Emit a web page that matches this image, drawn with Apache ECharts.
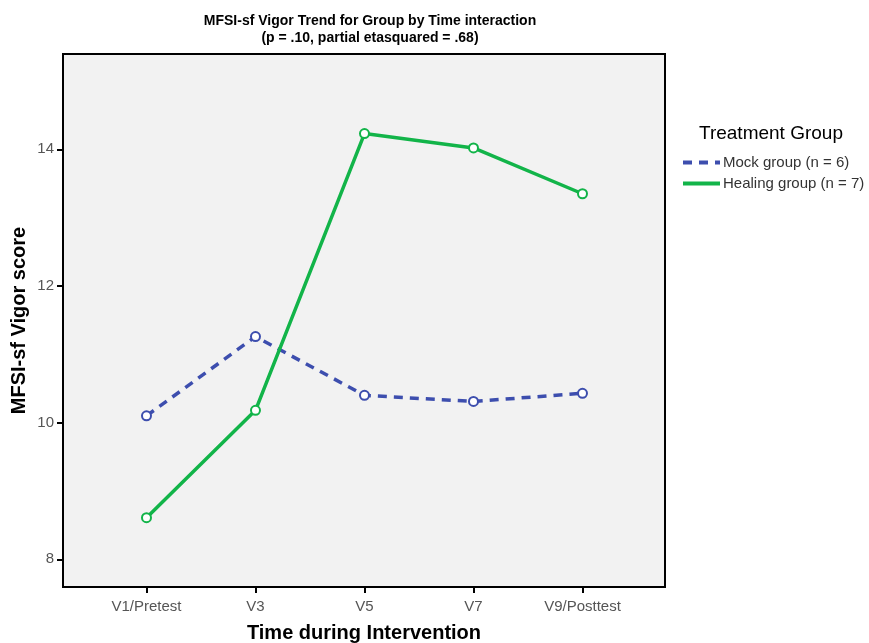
<!DOCTYPE html>
<html>
<head>
<meta charset="utf-8">
<script src="https://cdn.jsdelivr.net/npm/echarts@6/dist/echarts.min.js"></script>
<style>
html,body{margin:0;padding:0;background:#fff;}
#c{width:869px;height:643px;}
</style>
</head>
<body>
<div id="c"></div>
<script>
const categories = ['V1/Pretest', 'V3', 'V5', 'V7', 'V9/Posttest'];
const mockValues = [10.10, 11.26, 10.40, 10.31, 10.43];
const healingValues = [8.61, 10.18, 14.23, 14.02, 13.35];
const yTicks = [8, 10, 12, 14];
const seriesNames = ['Mock group (n = 6)', 'Healing group (n = 7)'];

const chart = echarts.init(document.getElementById('c'));
const font = 'Arial, "Liberation Sans", sans-serif';
const mockColor = '#3d4eae';
const healColor = '#12b449';

chart.setOption({
  backgroundColor: '#ffffff',
  animation: false,
  title: {
    text: 'MFSI-sf Vigor Trend for Group by Time interaction\n(p = .10, partial etasquared = .68)',
    left: 365, top: 8, textAlign: 'center',
    textStyle: {fontFamily: font, fontSize: 14, fontWeight: 'bold', color: '#000', lineHeight: 17}
  },
  legend: {
    left: 676, top: 150, orient: 'vertical',
    itemWidth: 37, itemHeight: 14, itemGap: 6,
    data: seriesNames,
    itemStyle: {opacity: 0},
    lineStyle: {width: 4},
    textStyle: {fontFamily: font, fontSize: 15, color: '#333', padding: [0,0,0,-2]}
  },
  graphic: [{
    type: 'text', left: 699, top: 124,
    style: {text: 'Treatment Group', fontFamily: font, fontSize: 19, fill: '#000'}
  }],
  grid: {left: 63, top: 54, width: 602, height: 533, outerBoundsMode: 'none', containLabel: false,
    show: true, backgroundColor: '#f2f2f2', borderColor: '#000', borderWidth: 2},
  xAxis: {
    type: 'value', min: -0.766, max: 4.757,
    name: 'Time during Intervention', nameLocation: 'middle', nameGap: 36,
    nameTextStyle: {fontFamily: font, fontSize: 20, fontWeight: 'bold', color: '#000'},
    axisLine: {show: false, onZero: false},
    splitLine: {show: false},
    axisTick: {show: true, length: 6, lineStyle: {color: '#000', width: 2}, customValues: [0,1,2,3,4]},
    axisLabel: {customValues: [0,1,2,3,4], formatter: v => categories[Math.round(v)], margin: 12,
      fontFamily: font, fontSize: 15, color: '#555'}
  },
  yAxis: {
    type: 'value', min: 7.595, max: 15.395,
    name: 'MFSI-sf Vigor score', nameLocation: 'middle', nameGap: 34, nameMoveOverlap: false,
    nameTextStyle: {fontFamily: font, fontSize: 20, fontWeight: 'bold', color: '#000'},
    axisLine: {show: false, onZero: false},
    splitLine: {show: false},
    axisTick: {show: true, length: 6, lineStyle: {color: '#000', width: 2}, customValues: yTicks},
    axisLabel: {customValues: yTicks, margin: 9, fontFamily: font, fontSize: 15, color: '#555'}
  },
  series: [
    {
      name: seriesNames[0], type: 'line',
      data: mockValues.map((v, i) => [i, v]),
      symbol: 'emptyCircle', symbolSize: 9,
      lineStyle: {color: mockColor, width: 3.5, type: [9, 7]},
      itemStyle: {color: mockColor, borderWidth: 1.5}
    },
    {
      name: seriesNames[1], type: 'line',
      data: healingValues.map((v, i) => [i, v]),
      symbol: 'emptyCircle', symbolSize: 9,
      lineStyle: {color: healColor, width: 3.5},
      itemStyle: {color: healColor, borderWidth: 1.5}
    }
  ]
});
</script>
</body>
</html>
